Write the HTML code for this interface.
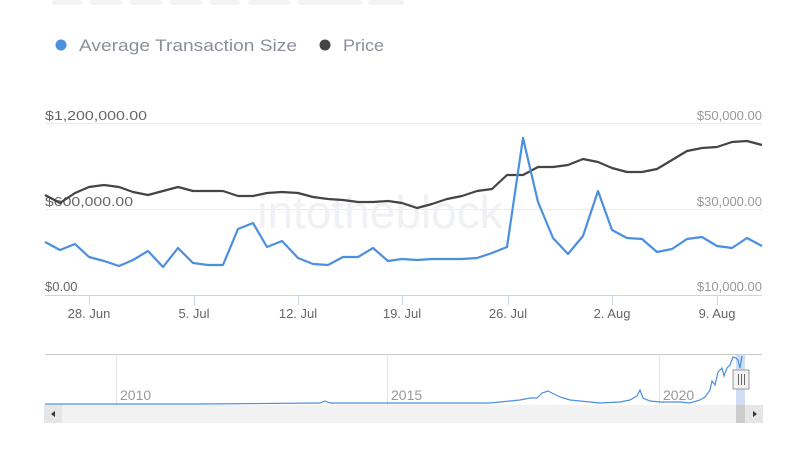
<!DOCTYPE html>
<html><head><meta charset="utf-8"><style>
html,body{margin:0;padding:0;background:#fff;width:800px;height:458px;overflow:hidden}
svg{display:block;font-family:"Liberation Sans",sans-serif}
</style></head><body>
<svg width="800" height="458" viewBox="0 0 800 458" xmlns="http://www.w3.org/2000/svg">
<g fill="#f3f3f3"><rect x="52" y="0" width="30" height="5" rx="3"/><rect x="90" y="0" width="32" height="5" rx="3"/><rect x="130" y="0" width="32" height="5" rx="3"/><rect x="170" y="0" width="32" height="5" rx="3"/><rect x="210" y="0" width="30" height="5" rx="3"/><rect x="248" y="0" width="42" height="5" rx="3"/><rect x="298" y="0" width="64" height="5" rx="3"/><rect x="368" y="0" width="36" height="5" rx="3"/></g>
<circle cx="61" cy="45" r="5.5" fill="#4a8fe0"/>
<text x="79" y="51" font-size="17" fill="#8a9099" textLength="218" lengthAdjust="spacingAndGlyphs">Average Transaction Size</text>
<circle cx="325" cy="45" r="5.5" fill="#444"/>
<text x="343" y="51" font-size="17" fill="#8a9099" textLength="41" lengthAdjust="spacingAndGlyphs">Price</text>
<g stroke="#ececec" stroke-width="1"><line x1="45" y1="123.5" x2="762" y2="123.5"/><line x1="45" y1="209.5" x2="762" y2="209.5"/></g>
<line x1="45" y1="295.5" x2="762" y2="295.5" stroke="#c9d6ea"/>
<g stroke="#c9d6ea"><line x1="89.5" y1="295" x2="89.5" y2="305"/><line x1="194.5" y1="295" x2="194.5" y2="305"/><line x1="298.5" y1="295" x2="298.5" y2="305"/><line x1="402.5" y1="295" x2="402.5" y2="305"/><line x1="508.5" y1="295" x2="508.5" y2="305"/><line x1="612.5" y1="295" x2="612.5" y2="305"/><line x1="717.5" y1="295" x2="717.5" y2="305"/></g>
<text x="380" y="228" font-size="46" fill="#f0f1f4" text-anchor="middle">intotheblock</text>
<g font-size="13" fill="#666"><text x="45" y="120" textLength="102" lengthAdjust="spacingAndGlyphs">$1,200,000.00</text><text x="45" y="206" textLength="88" lengthAdjust="spacingAndGlyphs">$600,000.00</text><text x="45" y="291">$0.00</text></g>
<g font-size="13" fill="#999" text-anchor="end"><text x="762" y="120">$50,000.00</text><text x="762" y="206">$30,000.00</text><text x="762" y="291">$10,000.00</text></g>
<g font-size="13" fill="#666" text-anchor="middle"><text x="89" y="318">28. Jun</text><text x="194" y="318">5. Jul</text><text x="298" y="318">12. Jul</text><text x="402" y="318">19. Jul</text><text x="508" y="318">26. Jul</text><text x="612" y="318">2. Aug</text><text x="717" y="318">9. Aug</text></g>
<polyline fill="none" stroke="#444" stroke-width="2.2" stroke-linejoin="round" points="45,195 60,203 75,193 89,187 104,185 119,187 133,192 148,195 163,191 178,187 193,191 208,191 223,191 238,196 253,196 267,193 282,192 298,193 313,197 328,199 343,200 358,202 373,202 388,201 402,203 417,208 432,204 447,199 462,196 477,191 492,189 507,175 523,175 538,167 553,167 568,165 583,159 598,162 612,168 627,172 642,172 657,169 672,160 687,151 702,148 717,147 732,142 747,141 762,145"/>
<polyline fill="none" stroke="#4a8fe0" stroke-width="2.2" stroke-linejoin="round" points="45,242 60,250 75,244 89,257 104,261 119,266 133,260 148,251 163,267 178,248 193,263 208,265 223,265 238,229 253,223 267,247 282,241 298,258 313,264 328,265 343,257 358,257 373,248 388,261 402,259 417,260 432,259 447,259 462,259 477,258 492,253 507,247 523,138 538,202 553,238 568,254 583,236 598,191 612,230 627,238 642,239 657,252 672,249 687,239 702,237 717,246 732,248 747,238 762,246"/>
<line x1="45" y1="354.5" x2="762" y2="354.5" stroke="#ccc"/>
<g stroke="#e6e6e6"><line x1="116.5" y1="355" x2="116.5" y2="405"/><line x1="387.5" y1="355" x2="387.5" y2="405"/><line x1="659.5" y1="355" x2="659.5" y2="405"/></g>
<g font-size="14" fill="#999"><text x="120" y="400">2010</text><text x="391" y="400">2015</text><text x="663" y="400">2020</text></g>
<rect x="736" y="354" width="9" height="51" fill="#c6d4ec" opacity="0.8"/>
<polyline fill="none" stroke="#4a8fe0" stroke-width="1.2" points="45,404 200,404 320,403 325,401 330,403 490,403 510,401 520,400 530,398 537,398 542,393 548,391 560,397 570,400 580,401 600,403 620,402 630,400 637,396 640,390 643,398 650,401 660,402 680,402 690,403 700,400 705,397 710,390 712,381 715,385 718,372 722,368 724,376 727,368 730,365 733,357 736,358 738,360 740,368 742,356"/>
<rect x="44" y="405" width="719" height="18" fill="#f2f2f2"/>
<rect x="44" y="405" width="18" height="18" fill="#e6e6e6"/>
<rect x="736" y="405" width="9" height="18" fill="#ccc"/>
<rect x="745" y="405" width="18" height="18" fill="#e6e6e6"/>
<path d="M51,414 L55,411 L55,417 Z M757,414 L753,411 L753,417 Z" fill="#333"/>
<rect x="733" y="370" width="16" height="19" fill="#f2f2f2" stroke="#999"/>
<g stroke="#666"><line x1="738.5" y1="374" x2="738.5" y2="385"/><line x1="741.5" y1="374" x2="741.5" y2="385"/><line x1="744.5" y1="374" x2="744.5" y2="385"/></g>
</svg>
</body></html>
